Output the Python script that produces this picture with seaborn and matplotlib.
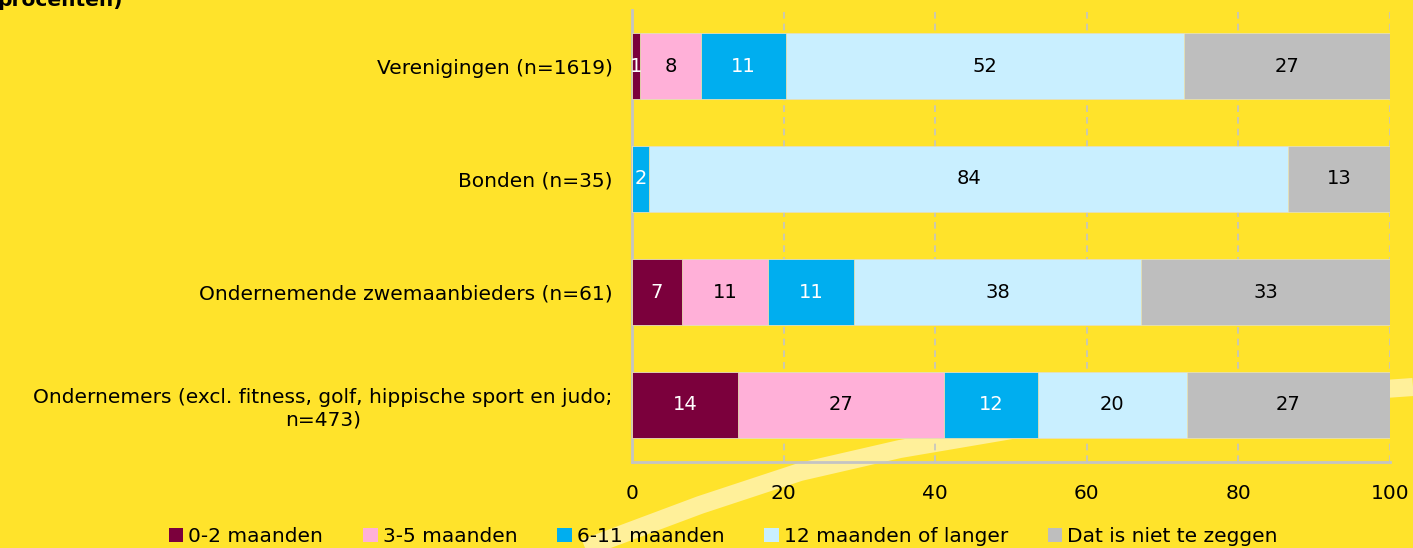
import numpy as np
import pandas as pd
import seaborn as sns
import matplotlib.pyplot as plt
from matplotlib.lines import Line2D
from matplotlib.patches import Patch

# ---------------- data (percentages) ----------------
groups = ["Verenigingen (n=1619)",
          "Bonden (n=35)",
          "Ondernemende zwemaanbieders (n=61)",
          "Ondernemers (excl. fitness, golf, hippische sport en judo;\nn=473)"]
series = ["0-2 maanden", "3-5 maanden", "6-11 maanden",
          "12 maanden of langer", "Dat is niet te zeggen"]
m_0_2 = [1.1, 0.0, 6.6, 14.0]
m_3_5 = [8.0, 0.0, 11.3, 27.2]
m_6_11 = [11.2, 2.2, 11.4, 12.3]
m_12 = [52.5, 84.4, 37.9, 19.7]
unknown = [27.2, 13.4, 32.8, 26.8]

colors = ["#7B003C", "#FFB0D8", "#00AEEF", "#C9EFFF", "#BEBEBE"]
text_colors = ["white", "black", "white", "black", "black"]
bg = "#FFE32B"

vals = np.array([m_0_2, m_3_5, m_6_11, m_12, unknown])
cum = np.cumsum(vals, axis=0)

rows = []
for s_i, s in enumerate(series):
    for g_i, g in enumerate(groups):
        rows.append({"groep": g, "reeks": s, "waarde": vals[s_i, g_i], "cum": cum[s_i, g_i]})
df = pd.DataFrame(rows)

sns.set_style("white")
plt.rcParams['font.family'] = ['DejaVu Sans']
plt.rcParams['text.color'] = 'black'
plt.rcParams['xtick.color'] = 'black'
plt.rcParams['ytick.color'] = 'black'

fig = plt.figure(figsize=(14.13, 5.48), dpi=100, facecolor=bg)

# decorative light stripe in background
sx = np.array([585, 700, 800, 900, 1100, 1300, 1413]) / 1413
sy = 1 - np.array([548, 505, 472, 449, 415, 395, 387]) / 548
fig.add_artist(Line2D(sx, sy, color="#FFF09A", lw=13, solid_capstyle="butt", zorder=0))

ax = fig.add_axes([632 / 1413, 1 - 461.5 / 548, 758 / 1413, 452 / 548])
ax.set_facecolor("none")

# stacked bars: draw cumulative totals from back to front
for s_i in range(len(series) - 1, -1, -1):
    sub = df[df["reeks"] == series[s_i]]
    sns.barplot(data=sub, x="cum", y="groep", order=groups, orient="h",
                color=colors[s_i], width=0.58, saturation=1, ax=ax,
                edgecolor="#E8E0B0", linewidth=0.6, zorder=3)

for s_i in range(len(series)):
    for g_i in range(len(groups)):
        v = vals[s_i, g_i]
        if v <= 0:
            continue
        ax.text(cum[s_i, g_i] - v / 2, g_i, "%d" % round(v), ha="center", va="center",
                color=text_colors[s_i], fontsize=14, zorder=5)

ax.set_xlim(0, 100)
ax.set_ylim(3.5, -0.5)
ax.set_xticks([0, 20, 40, 60, 80, 100])
ax.xaxis.grid(True, color="#C4C4C4", linestyle=(0, (4, 3)), lw=1.2, zorder=0)
ax.set_axisbelow(True)
ax.set_xlabel("")
ax.set_ylabel("")
for sp in ["top", "right"]:
    ax.spines[sp].set_visible(False)
for sp in ["left", "bottom"]:
    ax.spines[sp].set_color("#C4C4C4")
    ax.spines[sp].set_linewidth(2)
ax.tick_params(axis="x", length=8, width=1.5, color="#C4C4C4", labelcolor="black",
               pad=8, labelsize=14.5, direction="out")
ax.tick_params(axis="y", length=0, pad=14, labelsize=14.5, labelcolor="black")
ax.set_yticks([0.5, 1.5, 2.5], minor=True)
ax.tick_params(axis="y", which="minor", length=6, width=1.5, color="#C4C4C4")
for lab in ax.get_yticklabels():
    lab.set_multialignment("center")

fig.text(-0.002, 1 - 6 / 548, "procenten)", fontsize=14.5, fontweight="bold", ha="left", va="baseline")

handles = [Patch(facecolor=c, edgecolor="none") for c in colors]
fig.legend(handles, series, loc="lower center", bbox_to_anchor=(0.512, -0.03), ncol=5,
           frameon=False, fontsize=14.5, handlelength=0.7, handleheight=0.7,
           handletextpad=0.25, columnspacing=2.0)

fig.savefig("out.png", dpi=100, facecolor=bg)
